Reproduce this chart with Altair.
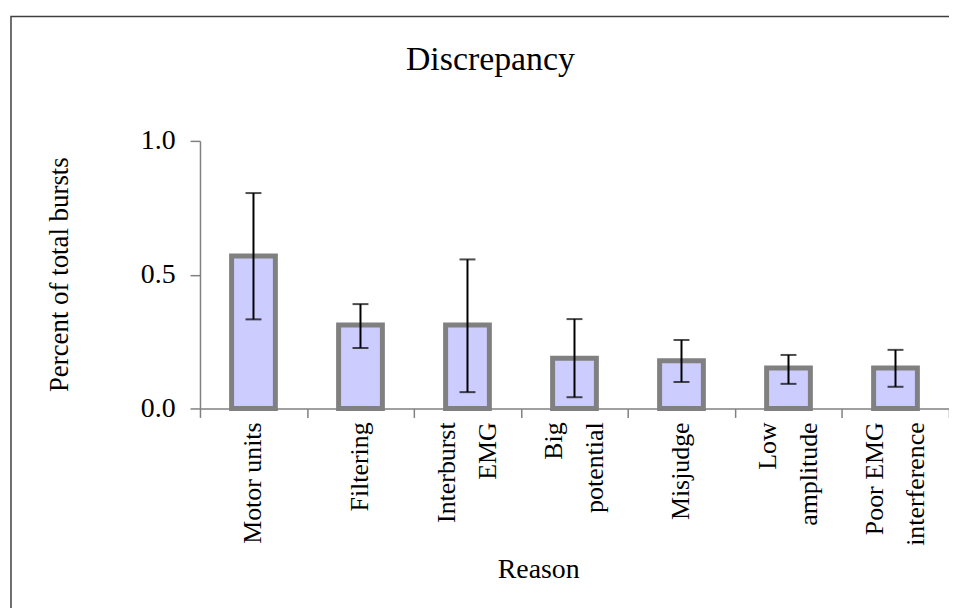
import altair as alt
import pandas as pd

reasons = [
    "Motor units",
    "Filtering",
    "Interburst\nEMG",
    "Big\npotential",
    "Misjudge",
    "Low\namplitude",
    "Poor EMG\ninterference",
]
share = [0.57, 0.312, 0.312, 0.188, 0.178, 0.151, 0.151]
err_high = [0.805, 0.39, 0.557, 0.334, 0.256, 0.200, 0.219]
err_low = [0.333, 0.226, 0.061, 0.042, 0.099, 0.092, 0.081]

df = pd.DataFrame({
    "Reason": reasons,
    "Share": share,
    "High": err_high,
    "Low": err_low,
})
df["line1"] = [r.split("\n")[0] for r in reasons]
df["line2"] = [r.split("\n")[1] if "\n" in r else "" for r in reasons]

FONT = "Liberation Serif"
H = 269

x_enc = alt.X(
    "Reason:N",
    sort=reasons,
    title="Reason",
    scale=alt.Scale(paddingInner=0, paddingOuter=0),
    axis=alt.Axis(
        labels=False,
        tickBand="extent",
        tickSize=9,
        titleX=340,
        titleY=170,
        titleBaseline="alphabetic",
        titleFontSize=28,
    ),
)

y_enc = alt.Y(
    "Share:Q",
    title="Percent of total bursts",
    scale=alt.Scale(domain=[0, 1], nice=False),
    axis=alt.Axis(
        values=[0, 0.5, 1.0],
        format=".1f",
        grid=False,
        tickSize=10,
        labelPadding=15,
        labelFontSize=28,
        labelColor="black",
        titleX=-141,
        titleY=134,
        titleAngle=270,
        titleAlign="center",
        titleBaseline="middle",
        titleFontSize=27,
    ),
)

x_plain = alt.X("Reason:N", sort=reasons)

bars = alt.Chart(df).mark_bar(
    size=44, color="#CCCCFF", stroke="#808080", strokeWidth=5
).encode(x=x_enc, y=y_enc)

whisker = alt.Chart(df).mark_rule(color="black", strokeWidth=2).encode(
    x=x_plain, y="Low:Q", y2="High:Q"
)

cap_top = alt.Chart(df).mark_tick(color="black", size=16, thickness=2).encode(
    x=x_plain, y="High:Q"
)
cap_bottom = alt.Chart(df).mark_tick(color="black", size=16, thickness=2).encode(
    x=x_plain, y="Low:Q"
)

# category labels, rotated; two-line labels are split either side of the bar centre
label_style = dict(
    font=FONT, fontSize=26, color="black",
    angle=270, align="right", baseline="middle",
)
label_single = alt.Chart(df).transform_filter("datum.line2 == ''").mark_text(
    **label_style
).encode(x=x_plain, y=alt.value(H + 14), text="line1:N")
label_first = alt.Chart(df).transform_filter("datum.line2 != ''").mark_text(
    dy=-21, **label_style
).encode(x=x_plain, y=alt.value(H + 14), text="line1:N")
label_second = alt.Chart(df).transform_filter("datum.line2 != ''").mark_text(
    dy=21, **label_style
).encode(x=x_plain, y=alt.value(H + 14), text="line2:N")

one = pd.DataFrame({"f": [0]})

# outer frame of the figure (clipped by the page edge on right/bottom)
frame = alt.Chart(one).mark_rect(
    fill=None, fillOpacity=0, stroke="#404040", strokeWidth=1.5
).encode(
    x=alt.value(-190), x2=alt.value(900),
    y=alt.value(-125), y2=alt.value(600),
)

# chart title, placed like the original (left of the plot centre)
title = alt.Chart(one).mark_text(
    text="Discrepancy", font=FONT, fontSize=34, color="black",
    align="center", baseline="alphabetic",
).encode(x=alt.value(292), y=alt.value(-71))

chart = (
    alt.layer(
        frame, bars, whisker, cap_top, cap_bottom,
        label_single, label_first, label_second, title,
    )
    .properties(
        width=753,
        height=H,
        background="white",
        autosize=alt.AutoSizeParams(type="none"),
        padding={"left": 193, "top": 132, "right": 0, "bottom": 199},
    )
    .configure_view(stroke=None)
    .configure_axis(
        labelFont=FONT,
        titleFont=FONT,
        titleFontWeight="normal",
        titleColor="black",
        domainColor="#808080",
        tickColor="#808080",
        domainWidth=1.5,
        tickWidth=1.5,
    )
)

chart.save("out.html", embed_options={"renderer": "svg", "actions": False})
